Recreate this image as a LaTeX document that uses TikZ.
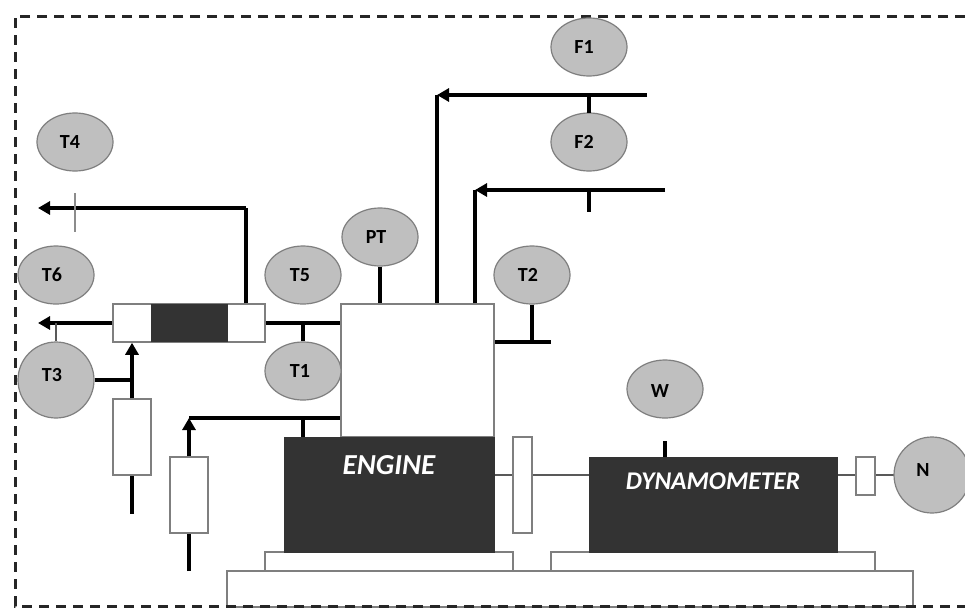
\documentclass[tikz,border=0pt]{standalone}
\usepackage{fontspec}
\setmainfont{Carlito}
\usetikzlibrary{shapes.geometric,arrows.meta}
\definecolor{sensorfill}{HTML}{BFBFBF}
\definecolor{edgegray}{HTML}{7F7F7F}
\definecolor{darkfill}{HTML}{333333}
\tikzset{
  x=1pt,y=-1pt,
  sensor/.style={ellipse,draw=edgegray,line width=1.2pt,fill=sensorfill,minimum width=76pt,minimum height=58pt,inner sep=0pt},
  stag/.style={font=\fontsize{20}{20}\selectfont\bfseries,text=black,inner sep=0pt},
  whitebox/.style={rectangle,draw=edgegray,line width=1.5pt,fill=white,inner sep=0pt},
  darkbox/.style={rectangle,draw=darkfill,line width=1pt,fill=darkfill,inner sep=0pt},
  pipe/.style={line width=4pt,draw=black},
  flow/.style={pipe,-{Triangle[length=12pt,width=13pt]}},
  thinline/.style={line width=1.5pt,draw=black!65},
  dashframe/.style={line width=3pt,draw=black!85,dash pattern=on 10pt off 7pt},
  machlabel/.style={text=white,inner sep=0pt,font=\bfseries\itshape}
}
\begin{document}
\begin{tikzpicture}
\useasboundingbox (0,0) rectangle (965,608);
\clip (0,0) rectangle (965,608);
\fill[white] (0,0) rectangle (965,608);
\coordinate (ftr) at (965,16);\coordinate (ftl) at (15,16);\coordinate (fbl) at (15,606);\coordinate (fbr) at (965,606);
% free ends
\coordinate (exA) at (38,208);\coordinate (exB) at (38,323);\coordinate (exC) at (246,208);
\coordinate (t4a) at (75,193);\coordinate (t4b) at (75,232);
\coordinate (in1) at (132,514);\coordinate (in2) at (189,571);\coordinate (in2c) at (189,418);
\coordinate (j3) at (132,380);\coordinate (j6) at (56,323);\coordinate (j1) at (303,323);\coordinate (j2) at (303,418);
\coordinate (fa) at (647,95);\coordinate (fb) at (665,190);\coordinate (fac) at (437,95);\coordinate (fbc) at (475,190);
\coordinate (f1j) at (589,95);\coordinate (f2j) at (589,190);\coordinate (f2e) at (589,212);
\coordinate (t2j) at (532,342);\coordinate (t2e) at (551,342);\coordinate (wE) at (665,441);
% base
\node[whitebox,minimum width=686pt,minimum height=36pt] (base3) at (570,589) {};
\node[whitebox,minimum width=248pt,minimum height=19pt] (base1) at (389,561.5) {};
\node[whitebox,minimum width=324pt,minimum height=19pt] (base2) at (713,561.5) {};
\draw[dashframe] (ftr) -- (ftl) -- (fbl) -- (fbr);
% shaft
\coordinate (sh0) at (494,475);
\coordinate (sh1) at (894,475);
\draw[thinline] (sh0) -- (sh1);
% pipes behind
\draw[pipe] (j1) -- (341,323);
\draw[pipe] (j2) -- (341,418);
\draw[pipe] (in2c) -- (j2);
\draw[pipe] (t2j) -- (t2e);
\draw[pipe] (494,342) -- (t2j);
% machines
\node[whitebox,minimum width=153pt,minimum height=133pt] (head) at (417.5,370.5) {};
\node[darkbox,minimum width=210pt,minimum height=115pt] (engine) at (389,494.5) {};
\node[machlabel,font=\fontsize{29}{29}\selectfont\bfseries\itshape] (enginetxt) at (389,465) {ENGINE};
\node[whitebox,minimum width=19pt,minimum height=96pt] (fly) at (522.5,485) {};
\node[darkbox,minimum width=248pt,minimum height=95pt] (dyno) at (713,504.5) {};
\node[machlabel,font=\fontsize{25.5}{25.5}\selectfont\bfseries\itshape] (dynotxt) at (713,481) {DYNAMOMETER};
\node[whitebox,minimum width=19pt,minimum height=38pt] (coup) at (865.5,476) {};
% exhaust silencer
\node[whitebox,minimum width=152pt,minimum height=38pt] (muff) at (189,323) {};
\node[rectangle,fill=darkfill,draw=darkfill,inner sep=0pt,minimum width=76pt,minimum height=37pt] (muffcore) at (189,323) {};
% air/fuel boxes
\node[whitebox,minimum width=38pt,minimum height=76pt] (f1box) at (132,437) {};
\node[whitebox,minimum width=38pt,minimum height=76pt] (f2box) at (189,495) {};
% sensors
\node[sensor,label={[stag,xshift=-5pt,yshift=0pt]center:T4}] (T4) at (75,142) {};
\node[sensor,label={[stag,xshift=-4pt,yshift=0pt]center:T6}] (T6) at (56,275) {};
\node[sensor,label={[stag,xshift=-3pt,yshift=0pt]center:T5}] (T5) at (303,275) {};
\node[sensor,label={[stag,xshift=-4pt,yshift=0pt]center:PT}] (PT) at (380,237) {};
\node[sensor,label={[stag,xshift=-4pt,yshift=0pt]center:T2}] (T2) at (532,275) {};
\node[sensor,label={[stag,xshift=-3pt,yshift=0pt]center:T1}] (T1) at (303,371) {};
\node[sensor,minimum height=76pt,label={[stag,xshift=-4pt,yshift=5pt]center:T3}] (T3) at (56,380) {};
\node[sensor,label={[stag,xshift=-5pt,yshift=0pt]center:F1}] (F1) at (589,47) {};
\node[sensor,label={[stag,xshift=-5pt,yshift=0pt]center:F2}] (F2) at (589,142) {};
\node[sensor,label={[stag,xshift=-5pt,yshift=-2pt]center:W}] (W) at (665,389) {};
\node[sensor,minimum height=76pt,label={[stag,xshift=-9pt,yshift=5pt]center:N}] (N) at (932,475) {};
% connectors
\draw[pipe] (muff.east) -- (j1);
\draw[flow] (muff.west) -- (exB);
\draw[pipe,line cap=butt] (muff.north -| exC) -- (exC);
\draw[flow] (exC) -- (exA);
\draw[thinline,draw=black!45] (t4a) -- (t4b);
\draw[thinline] (j6) -- (T3.north);
\draw[pipe] (T3.east) -- (j3);
\draw[flow] (f1box.north) -- (muff.south -| f1box.north);
\draw[pipe] (f1box.south) -- (in1);
\draw[pipe] (in2) -- (f2box.south);
\draw[flow] (f2box.north) -- (in2c);
\draw[pipe] (j1) -- (T1.north);
\draw[pipe] (j2) -- (engine.north -| j2);
\draw[pipe] (PT.south) -- (PT.south |- head.north);
\draw[pipe] (T2.south) -- (t2j);
\draw[pipe] (head.north -| fac) -- (fac);
\draw[flow] (fa) -- (fac);
\draw[pipe] (head.north -| fbc) -- (fbc);
\draw[flow] (fb) -- (fbc);
\draw[pipe] (f1j) -- (F1.south |- 0,113);
\draw[pipe] (f2j) -- (f2e);
\draw[pipe] (wE) -- (dyno.north -| wE);
\end{tikzpicture}
\end{document}
